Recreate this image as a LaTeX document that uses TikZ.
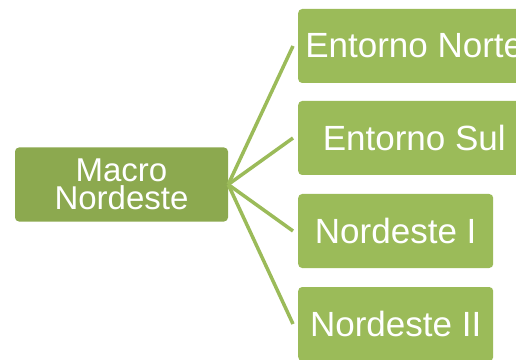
\documentclass[tikz,border=0pt]{standalone}
\usepackage{fontspec}
\setmainfont{Liberation Sans}
\usetikzlibrary{positioning}
\definecolor{rootgreen}{HTML}{8CA94F}
\definecolor{leafgreen}{HTML}{9BBB59}
\tikzset{box/.style={rounded corners=4pt,align=center,text=white,minimum height=74pt,inner sep=0pt,font=\fontsize{35}{37}\selectfont},
  root/.style={box,fill=rootgreen,minimum width=213pt,font=\fontsize{33}{28}\selectfont},
  leaf/.style={box,fill=leafgreen,anchor=west},
  link/.style={draw=leafgreen,line width=3.5pt}}

\begin{document}
\begin{tikzpicture}[x=1pt,y=1pt]
\useasboundingbox (0,0) rectangle (516,359);
\node[root] (macro) at (121.5,174.5) {Macro\\Nordeste};
\node[leaf,minimum width=232pt] (norte) at (298,313) {Entorno Norte};
\node[leaf,minimum width=232pt] (sul) at (298,221) {Entorno Sul};
\node[leaf,minimum width=195pt] (ne1) at (298,128) {Nordeste I};
\node[leaf,minimum width=195pt] (ne2) at (298,35) {Nordeste II};
\foreach \n in {norte,sul,ne1,ne2}{\draw[link] (macro.east) -- ([xshift=-5pt]\n.west);}
\end{tikzpicture}
\end{document}
